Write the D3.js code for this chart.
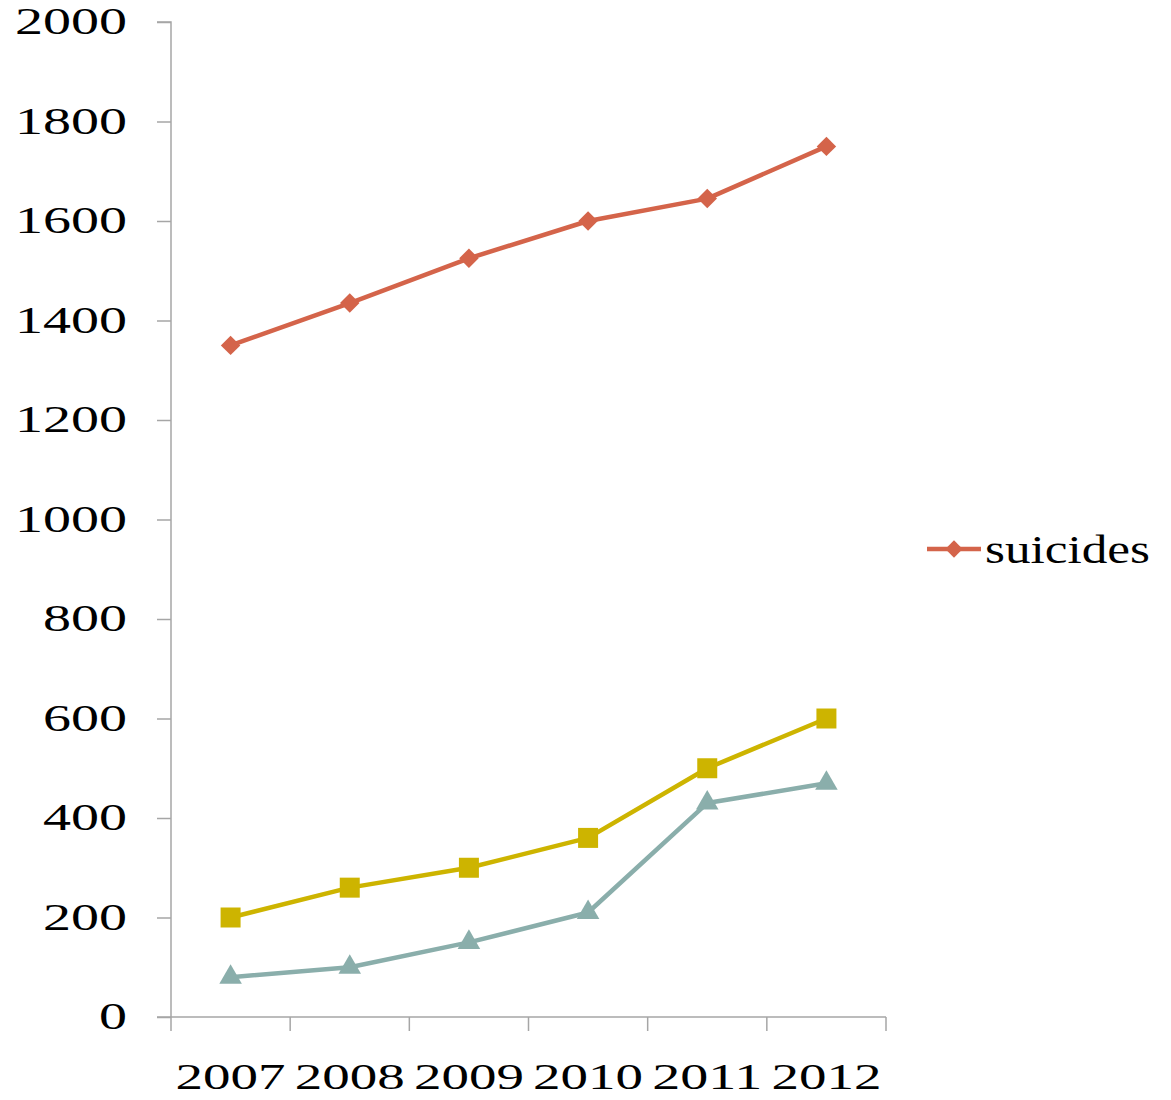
<!DOCTYPE html>
<html>
<head>
<meta charset="utf-8">
<script src="https://cdn.jsdelivr.net/npm/d3@7"></script>
<style>
  body { margin: 0; background: #fff; }
  text { font-family: "Liberation Serif", "DejaVu Serif", serif; fill: #000; }
</style>
</head>
<body>
<svg id="chart"></svg>
<script>
// data
let years = ['2007', '2008', '2009', '2010', '2011', '2012']
let suicides = [1350, 1435, 1525, 1600, 1645, 1750]
let seriesB = [200, 260, 300, 360, 500, 600]
let seriesC = [80, 100, 150, 210, 430, 470]
let yTicks = [0, 200, 400, 600, 800, 1000, 1200, 1400, 1600, 1800, 2000]

let w = 1171
let h = 1100
let padLeft = 171, padRight = 886, padTop = 22, padBottom = 1017

let svg = d3.select('#chart').attr('width', w).attr('height', h)

let xScale = d3.scaleBand().domain(years).range([padLeft, padRight])
let yScale = d3.scaleLinear().domain([0, 2000]).range([padBottom, padTop])

// y axis
let yAxis = d3.axisLeft(yScale).tickValues(yTicks).tickFormat(d3.format('d')).tickSize(14).tickPadding(30)
let gy = svg.append('g').attr('transform', 'translate(' + padLeft + ',0)').call(yAxis)
gy.select('.domain').attr('stroke', '#a6a6a6').attr('stroke-width', 1.5).attr('d', 'M0,' + padBottom + 'V' + padTop + 'H-14')
gy.selectAll('.tick line').attr('stroke', '#a6a6a6').attr('stroke-width', 1.5)
gy.selectAll('.tick text')
  .style('font-size', '37px')
  .attr('textLength', (d) => String(d).length * 28)
  .attr('lengthAdjust', 'spacingAndGlyphs')

// x axis
let xAxis = d3.axisBottom(xScale).tickSize(0).tickPadding(47)
let gx = svg.append('g').attr('transform', 'translate(0,' + padBottom + ')').call(xAxis)
gx.select('.domain').attr('stroke', '#a6a6a6').attr('stroke-width', 1.5).attr('d', 'M' + (padLeft - 14) + ',0H' + padRight)
gx.selectAll('.tick text')
  .style('font-size', '35px')
  .attr('textLength', 110)
  .attr('lengthAdjust', 'spacingAndGlyphs')
// boundary ticks between categories
let bounds = years.map((d) => xScale(d)).concat([padRight])
gx.selectAll('.bound').data(bounds).enter().append('line')
  .attr('x1', (d) => d).attr('x2', (d) => d)
  .attr('y1', 0).attr('y2', 14)
  .attr('stroke', '#a6a6a6').attr('stroke-width', 1.5)

let cx = (i) => xScale(years[i]) + xScale.bandwidth() / 2
let line = d3.line().x((d, i) => cx(i)).y((d) => yScale(d))

let drawSeries = (vals, color, symbol, size, rot) => {
  svg.append('path').datum(vals)
    .attr('d', line)
    .attr('fill', 'none')
    .attr('stroke', color)
    .attr('stroke-width', 4.5)
    .attr('stroke-linejoin', 'round')
  svg.selectAll(null).data(vals).enter().append('path')
    .attr('d', d3.symbol().type(symbol).size(size))
    .attr('transform', (d, i) => 'translate(' + cx(i) + ',' + yScale(d) + ') rotate(' + rot + ')')
    .attr('fill', color)
}

drawSeries(seriesC, '#8aaeab', d3.symbolTriangle, 220, 0)
drawSeries(seriesB, '#cdb400', d3.symbolSquare, 400, 0)
drawSeries(suicides, '#d4644a', d3.symbolSquare, 190, 45)

// legend
let lg = svg.append('g').attr('transform', 'translate(927,549)')
lg.append('line').attr('x1', 0).attr('x2', 54).attr('y1', 0).attr('y2', 0)
  .attr('stroke', '#d4644a').attr('stroke-width', 4.5)
lg.append('path').attr('d', d3.symbol().type(d3.symbolSquare).size(150))
  .attr('transform', 'translate(27,0) rotate(45)').attr('fill', '#d4644a')
lg.append('text').attr('x', 58).attr('y', 14)
  .style('font-size', '40px')
  .attr('textLength', 165).attr('lengthAdjust', 'spacingAndGlyphs')
  .text('suicides')
</script>
</body>
</html>
